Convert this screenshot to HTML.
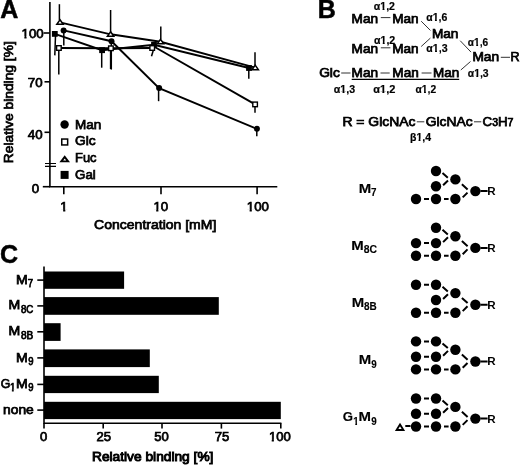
<!DOCTYPE html>
<html><head><meta charset="utf-8"><title>Figure</title>
<style>
html,body{margin:0;padding:0;background:#fff;}
body{width:520px;height:465px;overflow:hidden;}
svg{display:block;will-change:transform;font-family:"Liberation Sans",sans-serif;fill:#000;}
text{stroke:#000;}
.pl{font-size:25px;font-weight:bold;stroke-width:0.5px;}
.ln{stroke:#000;stroke-width:1.9;fill:none;}
.ax{stroke:#000;stroke-width:1.6;fill:none;}
.eb{stroke:#000;stroke-width:1.5;fill:none;}
.th{stroke:#333;stroke-width:1;fill:none;}
</style></head><body>
<svg width="520" height="465" viewBox="0 0 520 465">
<rect width="520" height="465" fill="#fff"/>

<text class="pl" x="0.2" y="17.8">A</text>
<path class="ax" d="M49.9 2V187.5M49.1 186.8H277.3"/>
<path class="ax" d="M43.6 33H50"/>
<text x="21.55" y="38.1" font-size="13.2" stroke-width="0.75" textLength="22.16" lengthAdjust="spacingAndGlyphs">100</text>
<path d="M21.11 35.91H24.35V39.08H21.11ZM26.55 35.91H29.68V39.08H26.55Z" fill="#fff"/>
<path class="ax" d="M44.5 81.8H50"/>
<text x="27.80" y="86.5" font-size="13.2" stroke-width="0.75" textLength="14.77" lengthAdjust="spacingAndGlyphs">70</text>
<path class="ax" d="M44.5 132.3H50"/>
<text x="27.80" y="138.5" font-size="13.2" stroke-width="0.75" textLength="14.77" lengthAdjust="spacingAndGlyphs">40</text>
<path class="ax" d="M42.8 186.7H50"/>
<text x="31.70" y="192.9" font-size="13.2" stroke-width="0.75" textLength="7.39" lengthAdjust="spacingAndGlyphs">0</text>
<path d="M45 163.5H56M45 166.4H56" stroke="#000" stroke-width="1.2"/>
<path class="ax" d="M63.8 186.8V194.2"/>
<text x="60.33" y="211.4" font-size="13.2" stroke-width="0.75" textLength="7.39" lengthAdjust="spacingAndGlyphs">1</text>
<path d="M59.89 209.21H63.13V212.38H59.89ZM65.33 209.21H68.46V212.38H65.33Z" fill="#fff"/>
<path class="ax" d="M161 186.8V194.2"/>
<text x="153.40" y="211.4" font-size="13.2" stroke-width="0.75" textLength="14.77" lengthAdjust="spacingAndGlyphs">10</text>
<path d="M152.96 209.21H156.20V212.38H152.96ZM158.40 209.21H161.52V212.38H158.40Z" fill="#fff"/>
<path class="ax" d="M257.1 186.8V194.2"/>
<text x="246.82" y="211.4" font-size="13.2" stroke-width="0.75" textLength="22.16" lengthAdjust="spacingAndGlyphs">100</text>
<path d="M246.38 209.21H249.62V212.38H246.38ZM251.82 209.21H254.95V212.38H251.82Z" fill="#fff"/>
<text x="94.12" y="229.2" font-size="13.4" stroke-width="0.75" textLength="122.25" lengthAdjust="spacingAndGlyphs">Concentration [mM]</text>
<g transform="translate(13.0,0) rotate(-90)">
<text x="-163.25" y="0" font-size="13.3" stroke-width="0.75" textLength="122.03" lengthAdjust="spacingAndGlyphs">Relative binding [%]</text>
</g>
<path class="eb" d="M63.8 30L63.8 45.4"/>
<path class="eb" d="M111.3 41L111.3 69.6"/>
<path class="eb" d="M158.6 88L158.6 101.2"/>
<path class="eb" d="M256.8 128L256.8 136.2"/>
<path class="eb" d="M58.8 50L58.8 74.6"/>
<path class="eb" d="M110.6 48L110.6 69"/>
<path class="eb" d="M153.8 48.8L151.5 56.2"/>
<path class="eb" d="M255 107L255 112.7"/>
<path class="eb" d="M59.4 4.2L59.4 20"/>
<path class="eb" d="M110.6 10L110.6 32"/>
<path class="eb" d="M160.8 26.5L160.8 39"/>
<path class="eb" d="M255 52.3L255 65"/>
<path class="eb" d="M55.5 36L54.8 55.4"/>
<path class="eb" d="M101.7 52L101.7 67.7"/>
<path class="eb" d="M248.8 70L248.8 78.8"/>
<path class="ln" d="M63.6 30.4L111.5 41.2L159.1 88.1L256.9 128.8"/>
<path class="ln" d="M58.9 48L110.9 48.3L152.2 48"/>
<path class="ln" d="M153.4 46.2L255.1 104.4"/>
<path class="ln" d="M60 22.3L110.6 34.3L160.5 41.8L255.2 67.7"/>
<path class="ln" d="M54.8 33.9L102.1 50.2L154 44.8L249 68"/>
<rect x="51.9" y="31.0" width="5.8" height="5.8"/>
<rect x="99.19999999999999" y="47.300000000000004" width="5.8" height="5.8"/>
<rect x="151.1" y="41.9" width="5.8" height="5.8"/>
<rect x="246.1" y="65.1" width="5.8" height="5.8"/>
<rect x="56.6" y="45.7" width="4.6" height="4.6" fill="#fff" stroke="#000" stroke-width="1.4"/>
<rect x="108.60000000000001" y="46.0" width="4.6" height="4.6" fill="#fff" stroke="#000" stroke-width="1.4"/>
<rect x="149.89999999999998" y="45.7" width="4.6" height="4.6" fill="#fff" stroke="#000" stroke-width="1.4"/>
<rect x="252.79999999999998" y="102.10000000000001" width="4.6" height="4.6" fill="#fff" stroke="#000" stroke-width="1.4"/>
<circle cx="63.6" cy="30.4" r="3"/>
<circle cx="111.5" cy="41.2" r="3"/>
<circle cx="159.1" cy="88.1" r="3"/>
<circle cx="256.9" cy="128.8" r="3"/>
<path d="M60 19.7L63.2 24.3H56.8Z" fill="#fff" stroke="#000" stroke-width="1.5"/>
<path d="M110.6 31.699999999999996L113.8 36.3H107.39999999999999Z" fill="#fff" stroke="#000" stroke-width="1.5"/>
<path d="M160.5 39.199999999999996L163.7 43.8H157.3Z" fill="#fff" stroke="#000" stroke-width="1.5"/>
<path d="M255.2 65.10000000000001L258.4 69.7H252.0Z" fill="#fff" stroke="#000" stroke-width="1.5"/>
<circle cx="64.6" cy="124.5" r="4.2"/>
<rect x="61.75" y="139.05" width="5.9" height="5.9" fill="#fff" stroke="#000" stroke-width="1.5"/>
<path d="M64.7 156.9L68.10000000000001 161.4H61.300000000000004Z" fill="#fff" stroke="#000" stroke-width="1.9"/>
<rect x="60.599999999999994" y="170.9" width="8" height="8"/>
<text x="75.05" y="128.6" font-size="13.4" stroke-width="0.75" textLength="26.27" lengthAdjust="spacingAndGlyphs">Man</text>
<text x="75.05" y="145.0" font-size="13.4" stroke-width="0.75" textLength="20.70" lengthAdjust="spacingAndGlyphs">Glc</text>
<text x="75.05" y="162.0" font-size="13.4" stroke-width="0.75" textLength="21.50" lengthAdjust="spacingAndGlyphs">Fuc</text>
<text x="75.05" y="178.5" font-size="13.4" stroke-width="0.75" textLength="20.70" lengthAdjust="spacingAndGlyphs">Gal</text>
<text class="pl" x="0.1" y="263.1">C</text>
<path class="ax" d="M44 266.5V424.1M43.2 423.3H281.4"/>
<rect x="44" y="271.5" width="80.1" height="17.3"/>
<rect x="44" y="297.1" width="174.8" height="17.7"/>
<rect x="44" y="323.2" width="16.6" height="17.7"/>
<rect x="44" y="349.4" width="105.8" height="17.7"/>
<rect x="44" y="375.8" width="114.8" height="17.3"/>
<rect x="44" y="401.8" width="236.8" height="17.3"/>
<path class="ax" d="M37.3 280.1H44"/>
<path class="ax" d="M37.3 305.9H44"/>
<path class="ax" d="M37.3 331.8H44"/>
<path class="ax" d="M37.3 357.9H44"/>
<path class="ax" d="M37.3 384.4H44"/>
<path class="ax" d="M37.3 410.1H44"/>
<path class="ax" d="M44 423.3V428.6"/>
<text x="40.12" y="441.3" font-size="13.0" stroke-width="0.75" textLength="7.28" lengthAdjust="spacingAndGlyphs">0</text>
<path class="ax" d="M103.2 423.3V428.6"/>
<text x="96.42" y="441.3" font-size="13.0" stroke-width="0.75" textLength="14.56" lengthAdjust="spacingAndGlyphs">25</text>
<path class="ax" d="M162 423.3V428.6"/>
<text x="154.18" y="441.3" font-size="13.0" stroke-width="0.75" textLength="14.56" lengthAdjust="spacingAndGlyphs">50</text>
<path class="ax" d="M221.4 423.3V428.6"/>
<text x="214.85" y="441.3" font-size="13.0" stroke-width="0.75" textLength="14.56" lengthAdjust="spacingAndGlyphs">75</text>
<path class="ax" d="M280.8 423.3V428.6"/>
<text x="268.95" y="441.3" font-size="13.0" stroke-width="0.75" textLength="21.84" lengthAdjust="spacingAndGlyphs">100</text>
<path d="M268.51 439.12H271.70V442.28H268.51ZM273.89 439.12H276.96V442.28H273.89Z" fill="#fff"/>
<text x="92.00" y="461.1" font-size="12.8" stroke-width="0.95" textLength="121.43" lengthAdjust="spacingAndGlyphs">Relative binding [%]</text>
<text x="15.95" y="283.6" font-size="12.8" stroke-width="0.75" textLength="11.73" lengthAdjust="spacingAndGlyphs">M</text>
<text x="27.77" y="287.20000000000005" font-size="10.6" stroke-width="0.75" textLength="5.30" lengthAdjust="spacingAndGlyphs">7</text>
<text x="8.60" y="309.4" font-size="12.8" stroke-width="0.75" textLength="11.73" lengthAdjust="spacingAndGlyphs">M</text>
<text x="20.92" y="313.0" font-size="10.6" stroke-width="0.75" textLength="12.38" lengthAdjust="spacingAndGlyphs">8C</text>
<text x="8.60" y="335.2" font-size="12.8" stroke-width="0.75" textLength="11.73" lengthAdjust="spacingAndGlyphs">M</text>
<text x="20.92" y="338.8" font-size="10.6" stroke-width="0.75" textLength="12.38" lengthAdjust="spacingAndGlyphs">8B</text>
<text x="15.95" y="361.7" font-size="12.8" stroke-width="0.75" textLength="11.73" lengthAdjust="spacingAndGlyphs">M</text>
<text x="28.15" y="365.3" font-size="10.6" stroke-width="0.75" textLength="5.30" lengthAdjust="spacingAndGlyphs">9</text>
<text x="0.85" y="388" font-size="12.8" stroke-width="0.75" textLength="9.53" lengthAdjust="spacingAndGlyphs">G</text>
<text x="9.93" y="391.3" font-size="10.6" stroke-width="0.75" textLength="5.46" lengthAdjust="spacingAndGlyphs">1</text>
<path d="M9.60 389.31H11.86V392.28H9.60ZM13.76 389.31H15.94V392.28H13.76Z" fill="#fff"/>
<text x="16.00" y="388" font-size="12.8" stroke-width="0.75" textLength="11.73" lengthAdjust="spacingAndGlyphs">M</text>
<text x="28.20" y="391.3" font-size="10.6" stroke-width="0.75" textLength="5.30" lengthAdjust="spacingAndGlyphs">9</text>
<text x="3.05" y="413.9" font-size="12.8" stroke-width="0.75" textLength="30.74" lengthAdjust="spacingAndGlyphs">none</text>
<text class="pl" x="317.7" y="18.1">B</text>
<text x="351.62" y="22.5" font-size="12.8" stroke-width="0.75" textLength="26.52" lengthAdjust="spacingAndGlyphs">Man</text>
<text x="392.18" y="22.5" font-size="12.8" stroke-width="0.75" textLength="26.37" lengthAdjust="spacingAndGlyphs">Man</text>
<text x="351.62" y="52.5" font-size="12.8" stroke-width="0.75" textLength="26.52" lengthAdjust="spacingAndGlyphs">Man</text>
<text x="392.18" y="52.5" font-size="12.8" stroke-width="0.75" textLength="26.37" lengthAdjust="spacingAndGlyphs">Man</text>
<text x="431.92" y="38.1" font-size="12.8" stroke-width="0.75" textLength="26.52" lengthAdjust="spacingAndGlyphs">Man</text>
<text x="472.45" y="61.4" font-size="12.8" stroke-width="0.75" textLength="26.72" lengthAdjust="spacingAndGlyphs">Man</text>
<text x="351.62" y="76.8" font-size="12.8" stroke-width="0.75" textLength="26.57" lengthAdjust="spacingAndGlyphs">Man</text>
<text x="392.38" y="76.8" font-size="12.8" stroke-width="0.75" textLength="26.37" lengthAdjust="spacingAndGlyphs">Man</text>
<text x="432.95" y="76.8" font-size="12.8" stroke-width="0.75" textLength="26.22" lengthAdjust="spacingAndGlyphs">Man</text>
<text x="510.55" y="61.4" font-size="12.8" stroke-width="0.75" textLength="9.06" lengthAdjust="spacingAndGlyphs">R</text>
<text x="319.17" y="76.8" font-size="12.8" stroke-width="0.75" textLength="20.68" lengthAdjust="spacingAndGlyphs">Glc</text>
<path class="th" d="M380.8 17.6H390.4M380.8 47.8H390.4M341.2 73H350.5M380.5 73H389.7M421.6 73H431.5M500.8 57.3H510"/>
<path class="th" d="M421.2 21.2L430.4 30.4M421.2 46.5L430.4 38.1M460.2 40.7L471 52.1M460.8 70L470.5 61.5"/>
<path d="M351.7 79.3H459.2" stroke="#000" stroke-width="1.3"/>
<text x="373.85" y="9.700000000000001" font-size="10.7" font-weight="bold" stroke-width="0.2" textLength="21.08" lengthAdjust="spacingAndGlyphs">α1,2</text>
<path d="M379.99 7.70H382.54V10.40H379.99ZM384.45 7.70H386.77V10.40H384.45Z" fill="#fff"/>
<text x="373.98" y="43.5" font-size="10.7" font-weight="bold" stroke-width="0.2" textLength="21.28" lengthAdjust="spacingAndGlyphs">α1,2</text>
<path d="M380.18 41.50H382.76V44.20H380.18ZM384.68 41.50H387.02V44.20H384.68Z" fill="#fff"/>
<text x="426.27" y="20.7" font-size="10.7" font-weight="bold" stroke-width="0.2" textLength="21.03" lengthAdjust="spacingAndGlyphs">α1,6</text>
<path d="M432.40 18.70H434.94V21.40H432.40ZM436.85 18.70H439.16V21.40H436.85Z" fill="#fff"/>
<text x="426.27" y="51.5" font-size="10.7" font-weight="bold" stroke-width="0.2" textLength="21.28" lengthAdjust="spacingAndGlyphs">α1,3</text>
<path d="M432.47 49.50H435.05V52.20H432.47ZM436.97 49.50H439.31V52.20H436.97Z" fill="#fff"/>
<text x="467.85" y="45.599999999999994" font-size="10.7" font-weight="bold" stroke-width="0.2" textLength="20.33" lengthAdjust="spacingAndGlyphs">α1,6</text>
<path d="M473.77 43.60H476.22V46.30H473.77ZM478.08 43.60H480.31V46.30H478.08Z" fill="#fff"/>
<text x="467.75" y="77.2" font-size="10.7" font-weight="bold" stroke-width="0.2" textLength="20.83" lengthAdjust="spacingAndGlyphs">α1,3</text>
<path d="M473.82 75.20H476.34V77.90H473.82ZM478.23 75.20H480.52V77.90H478.23Z" fill="#fff"/>
<text x="333.77" y="93.39999999999999" font-size="10.7" font-weight="bold" stroke-width="0.2" textLength="21.28" lengthAdjust="spacingAndGlyphs">α1,3</text>
<path d="M339.97 91.40H342.55V94.10H339.97ZM344.47 91.40H346.81V94.10H344.47Z" fill="#fff"/>
<text x="373.25" y="93.39999999999999" font-size="10.7" font-weight="bold" stroke-width="0.2" textLength="22.08" lengthAdjust="spacingAndGlyphs">α1,2</text>
<path d="M379.68 91.40H382.37V94.10H379.68ZM384.34 91.40H386.79V94.10H384.34Z" fill="#fff"/>
<text x="415.55" y="93.1" font-size="10.7" font-weight="bold" stroke-width="0.2" textLength="20.58" lengthAdjust="spacingAndGlyphs">α1,2</text>
<path d="M421.55 91.10H424.03V93.80H421.55ZM425.91 91.10H428.17V93.80H425.91Z" fill="#fff"/>
<text x="410.10" y="140.8" font-size="10.7" font-weight="bold" stroke-width="0.2" textLength="21.00" lengthAdjust="spacingAndGlyphs">β1,4</text>
<path d="M415.96 138.80H418.55V141.50H415.96ZM420.48 138.80H422.83V141.50H420.48Z" fill="#fff"/>
<text x="342.42" y="125.8" font-size="12.8" stroke-width="0.75" textLength="73.10" lengthAdjust="spacingAndGlyphs">R = GlcNAc</text>
<text x="425.75" y="125.6" font-size="12.8" stroke-width="0.75" textLength="46.89" lengthAdjust="spacingAndGlyphs">GlcNAc</text>
<text x="482.60" y="125.6" font-size="12.8" stroke-width="0.75" textLength="30.88" lengthAdjust="spacingAndGlyphs">C<tspan font-size="10.2">3</tspan>H<tspan font-size="10.2">7</tspan></text>
<path class="th" d="M416.8 121.8H424.3M474 121.8H481.3"/>
<path d="M424 199.00000000000003h5M444 199.00000000000003h4.6M442.5 173.00000000000003 l5.3 4.7M443.1 185.3 l4.9 -4.8M461.9 184.20000000000005 l5.7 5.2M462.7 197.40000000000003 l4.8 -4.8M480.4 191.10000000000002h7.2" stroke="#000" stroke-width="2" fill="none"/>
<circle cx="416" cy="199.00000000000003" r="5.2"/>
<circle cx="436" cy="199.00000000000003" r="5.2"/>
<circle cx="455.4" cy="199.00000000000003" r="5.2"/>
<circle cx="436" cy="186.3" r="5.2"/>
<circle cx="436" cy="171.00000000000003" r="5.2"/>
<circle cx="455.4" cy="179.40000000000003" r="5.2"/>
<circle cx="475.4" cy="191.10000000000002" r="5.2"/>
<text x="487.33" y="195.00000000000003" font-size="11.6" font-weight="bold" stroke-width="0" textLength="8.38" lengthAdjust="spacingAndGlyphs">R</text>
<path d="M424 255.8h5M444 255.8h4.6M424 243.1h5M442.5 229.8 l5.3 4.7M443.1 242.1 l4.9 -4.8M461.9 241.00000000000003 l5.7 5.2M462.7 254.20000000000002 l4.8 -4.8M480.4 247.9h7.2" stroke="#000" stroke-width="2" fill="none"/>
<circle cx="416" cy="255.8" r="5.2"/>
<circle cx="436" cy="255.8" r="5.2"/>
<circle cx="455.4" cy="255.8" r="5.2"/>
<circle cx="436" cy="243.1" r="5.2"/>
<circle cx="436" cy="227.8" r="5.2"/>
<circle cx="455.4" cy="236.20000000000002" r="5.2"/>
<circle cx="475.4" cy="247.9" r="5.2"/>
<circle cx="416" cy="243.1" r="5.2"/>
<text x="487.33" y="251.8" font-size="11.6" font-weight="bold" stroke-width="0" textLength="8.38" lengthAdjust="spacingAndGlyphs">R</text>
<path d="M424 312.7h5M444 312.7h4.6M424 284.7h5M442.5 286.7 l5.3 4.7M443.1 299.0 l4.9 -4.8M461.9 297.90000000000003 l5.7 5.2M462.7 311.09999999999997 l4.8 -4.8M480.4 304.8h7.2" stroke="#000" stroke-width="2" fill="none"/>
<circle cx="416" cy="312.7" r="5.2"/>
<circle cx="436" cy="312.7" r="5.2"/>
<circle cx="455.4" cy="312.7" r="5.2"/>
<circle cx="436" cy="300.0" r="5.2"/>
<circle cx="436" cy="284.7" r="5.2"/>
<circle cx="455.4" cy="293.1" r="5.2"/>
<circle cx="475.4" cy="304.8" r="5.2"/>
<circle cx="416" cy="284.7" r="5.2"/>
<text x="487.33" y="308.7" font-size="11.6" font-weight="bold" stroke-width="0" textLength="8.38" lengthAdjust="spacingAndGlyphs">R</text>
<path d="M424 369.4h5M444 369.4h4.6M424 356.7h5M424 341.4h5M442.5 343.4 l5.3 4.7M443.1 355.7 l4.9 -4.8M461.9 354.6 l5.7 5.2M462.7 367.79999999999995 l4.8 -4.8M480.4 361.5h7.2" stroke="#000" stroke-width="2" fill="none"/>
<circle cx="416" cy="369.4" r="5.2"/>
<circle cx="436" cy="369.4" r="5.2"/>
<circle cx="455.4" cy="369.4" r="5.2"/>
<circle cx="436" cy="356.7" r="5.2"/>
<circle cx="436" cy="341.4" r="5.2"/>
<circle cx="455.4" cy="349.8" r="5.2"/>
<circle cx="475.4" cy="361.5" r="5.2"/>
<circle cx="416" cy="356.7" r="5.2"/>
<circle cx="416" cy="341.4" r="5.2"/>
<text x="487.33" y="365.4" font-size="11.6" font-weight="bold" stroke-width="0" textLength="8.38" lengthAdjust="spacingAndGlyphs">R</text>
<path d="M424 426.5h5M444 426.5h4.6M424 413.8h5M424 398.5h5M405.3 425.9h5.2M442.5 400.5 l5.3 4.7M443.1 412.8 l4.9 -4.8M461.9 411.70000000000005 l5.7 5.2M462.7 424.9 l4.8 -4.8M480.4 418.6h7.2" stroke="#000" stroke-width="2" fill="none"/>
<circle cx="416" cy="426.5" r="5.2"/>
<circle cx="436" cy="426.5" r="5.2"/>
<circle cx="455.4" cy="426.5" r="5.2"/>
<circle cx="436" cy="413.8" r="5.2"/>
<circle cx="436" cy="398.5" r="5.2"/>
<circle cx="455.4" cy="406.90000000000003" r="5.2"/>
<circle cx="475.4" cy="418.6" r="5.2"/>
<circle cx="416" cy="413.8" r="5.2"/>
<circle cx="416" cy="398.5" r="5.2"/>
<path d="M400.0 424.5l3.4 5.5h-6.8Z" fill="#fff" stroke="#000" stroke-width="1.9" stroke-linejoin="miter"/>
<text x="487.33" y="422.5" font-size="11.6" font-weight="bold" stroke-width="0" textLength="8.38" lengthAdjust="spacingAndGlyphs">R</text>
<text x="358.88" y="192.7" font-size="13.6" font-weight="bold" stroke-width="0.15" textLength="12.46" lengthAdjust="spacingAndGlyphs">M</text>
<text x="370.93" y="195.89999999999998" font-size="10.9" font-weight="bold" stroke-width="0.15" textLength="5.45" lengthAdjust="spacingAndGlyphs">7</text>
<text x="351.18" y="249.7" font-size="13.6" font-weight="bold" stroke-width="0.15" textLength="12.46" lengthAdjust="spacingAndGlyphs">M</text>
<text x="363.77" y="253.39999999999998" font-size="10.9" font-weight="bold" stroke-width="0.15" textLength="13.31" lengthAdjust="spacingAndGlyphs">8C</text>
<text x="351.82" y="306.8" font-size="13.6" font-weight="bold" stroke-width="0.15" textLength="12.46" lengthAdjust="spacingAndGlyphs">M</text>
<text x="363.98" y="310.3" font-size="10.9" font-weight="bold" stroke-width="0.15" textLength="12.72" lengthAdjust="spacingAndGlyphs">8B</text>
<text x="358.88" y="364.2" font-size="13.6" font-weight="bold" stroke-width="0.15" textLength="12.46" lengthAdjust="spacingAndGlyphs">M</text>
<text x="371.18" y="367.8" font-size="10.9" font-weight="bold" stroke-width="0.15" textLength="5.45" lengthAdjust="spacingAndGlyphs">9</text>
<text x="342.82" y="421.3" font-size="13.6" font-weight="bold" stroke-width="0.15" textLength="10.26" lengthAdjust="spacingAndGlyphs">G</text>
<text x="353.23" y="424.6" font-size="10.9" font-weight="bold" stroke-width="0.15" textLength="5.45" lengthAdjust="spacingAndGlyphs">1</text>
<path d="M352.90 422.60H355.29V425.28H352.90ZM357.05 422.60H359.22V425.28H357.05Z" fill="#fff"/>
<text x="358.62" y="421.3" font-size="13.6" font-weight="bold" stroke-width="0.15" textLength="12.46" lengthAdjust="spacingAndGlyphs">M</text>
<text x="371.18" y="424.6" font-size="10.9" font-weight="bold" stroke-width="0.15" textLength="5.45" lengthAdjust="spacingAndGlyphs">9</text>
</svg></body></html>
